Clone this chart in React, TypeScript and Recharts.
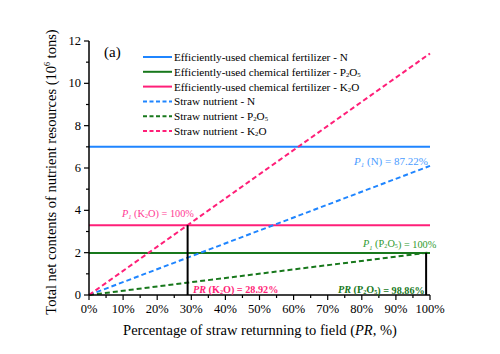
import React from 'react'
import { LineChart, Line, XAxis, YAxis, ReferenceLine } from 'recharts'

// straw returning percentage (x) at the two ends of every line
const PR = [0, 100]

// 10^6 tons
const fertN = [7.0, 7.0]
const fertP = [1.99, 1.99]
const fertK = [3.3, 3.3]
const strawN = [0, 6.1]
const strawP = [0, 2.013]
const strawK = [0, 11.41]

const X_TICKS = [0, 5, 10, 15, 20, 25, 30, 35, 40, 45, 50, 55, 60, 65, 70, 75, 80, 85, 90, 95, 100]
const Y_TICKS = [0, 1, 2, 3, 4, 5, 6, 7, 8, 9, 10, 11, 12]

// thresholds where straw nutrient equals fertilizer
const PR_K = 28.92
const PR_P = 98.86

const BLUE = '#1f85ff'
const GREEN = '#18781c'
const PINK = '#ff1f78'
const FONT = 'Liberation Serif, DejaVu Serif, serif'

const SERIES = [
  { key: 'fertN', label: 'Efficiently-used chemical fertilizer - ', chem: 'N', color: BLUE, dash: undefined },
  { key: 'fertP', label: 'Efficiently-used chemical fertilizer - ', chem: 'P2O5', color: GREEN, dash: undefined },
  { key: 'fertK', label: 'Efficiently-used chemical fertilizer - ', chem: 'K2O', color: PINK, dash: undefined },
  { key: 'strawN', label: 'Straw nutrient - ', chem: 'N', color: BLUE, dash: '5 3' },
  { key: 'strawP', label: 'Straw nutrient - ', chem: 'P2O5', color: GREEN, dash: '5 3' },
  { key: 'strawK', label: 'Straw nutrient - ', chem: 'K2O', color: PINK, dash: '5 3' },
]

const data = PR.map((x, i) => ({
  pr: x,
  fertN: fertN[i],
  fertP: fertP[i],
  fertK: fertK[i],
  strawN: strawN[i],
  strawP: strawP[i],
  strawK: strawK[i],
}))

// digits in a formula become small subscripts
function Chem({ f, size }: { f: string; size: number }) {
  const parts = f.split(/(\d)/).filter(Boolean)
  return (
    <>
      {parts.map((p, i) =>
        /\d/.test(p) ? (
          <tspan key={i} fontSize={size * 0.6} dy={size * 0.1}>{p}</tspan>
        ) : (
          <tspan key={i} dy={i > 0 && /\d/.test(parts[i - 1]) ? -size * 0.1 : 0}>{p}</tspan>
        ),
      )}
    </>
  )
}

const XTick = (props: any) => {
  const { x, y, payload } = props
  const major = payload.value % 10 === 0
  return (
    <g>
      <line x1={x} x2={x} y1={y} y2={y + (major ? 5 : 3)} stroke="#000" strokeWidth={1.2} />
      {major && (
        <text x={x} y={y + 18} textAnchor="middle" fontSize={12.5} style={{ fontFamily: FONT }} fill="#000">
          {payload.value}%
        </text>
      )}
    </g>
  )
}

const YTick = (props: any) => {
  const { x, y, payload } = props
  const major = payload.value % 2 === 0
  return (
    <g>
      <line x1={x} x2={x - (major ? 5 : 3)} y1={y} y2={y} stroke="#000" strokeWidth={1.2} />
      {major && (
        <text x={x - 8} y={y + 4} textAnchor="end" fontSize={12.5} style={{ fontFamily: FONT }} fill="#000">
          {payload.value}
        </text>
      )}
    </g>
  )
}

function Overlay() {
  const lx = 143
  const ly = 57
  const step = 14.8
  return (
    <svg width={500} height={354} style={{ position: 'absolute', left: 0, top: 0, pointerEvents: 'none', fontFamily: FONT }}>
      <text x={104} y={57} fontSize={15} fill="#000">(a)</text>

      {/* legend */}
      {SERIES.map((s, i) => (
        <g key={s.key}>
          <line x1={lx} x2={lx + 29} y1={ly + i * step} y2={ly + i * step} stroke={s.color} strokeWidth={2} strokeDasharray={s.dash ? '4 2.5' : undefined} />
          <text x={lx + 31} y={ly + i * step + 4} fontSize={11.2} fill="#000">
            {s.label}<Chem f={s.chem} size={11.2} />
          </text>
        </g>
      ))}

      {/* annotations */}
      <text x={354} y={165} fontSize={11} fill="#4a9cff">
        <tspan fontStyle="italic">P</tspan><tspan fontSize={7} fontStyle="italic" dy={1.5}>1</tspan>
        <tspan dy={-1.5}> (N) = 87.22%</tspan>
      </text>
      <text x={122} y={217} fontSize={10.3} fill="#ff3a94">
        <tspan fontStyle="italic">P</tspan><tspan fontSize={6.5} fontStyle="italic" dy={1.5}>1</tspan>
        <tspan dy={-1.5}> (</tspan><Chem f="K2O" size={10.3} /><tspan>) = 100%</tspan>
      </text>
      <text x={363} y={247} fontSize={10.3} fill="#2f9a2f">
        <tspan fontStyle="italic">P</tspan><tspan fontSize={6.5} fontStyle="italic" dy={3}>1</tspan>
        <tspan dy={-3}> (</tspan><Chem f="P2O5" size={10.3} /><tspan>) = 100%</tspan>
      </text>
      <text x={193} y={292.5} fontSize={10.2} fontWeight="bold" fill={PINK}>
        <tspan fontStyle="italic">PR</tspan><tspan> (</tspan><Chem f="K2O" size={10.2} /><tspan>) = 28.92%</tspan>
      </text>
      <text x={338} y={292.5} fontSize={10.2} fontWeight="bold" fill={GREEN}>
        <tspan fontStyle="italic">PR</tspan><tspan> (</tspan><Chem f="P2O5" size={10.2} /><tspan>) = 98.86%</tspan>
      </text>

      {/* axis titles */}
      <text x={260} y={335} fontSize={14.5} textAnchor="middle" fill="#000">
        Percentage of straw returnning to field (<tspan fontStyle="italic">PR</tspan>, %)
      </text>
      <text transform="translate(56,172) rotate(-90)" fontSize={14.5} textAnchor="middle" fill="#000">
        Total net contents of nutrient resources (10<tspan fontSize={8} dy={-6}>6</tspan><tspan dy={6}> tons)</tspan>
      </text>
    </svg>
  )
}

export default function App() {
  return (
    <div style={{ position: 'absolute', left: 0, top: 0, width: 500, height: 354, background: '#fff', fontFamily: FONT }}>
      <LineChart width={500} height={354} data={data} margin={{ top: 41, right: 70, bottom: 0, left: 0 }}>
        <XAxis
          dataKey="pr"
          type="number"
          domain={[0, 100]}
          ticks={X_TICKS}
          interval={0}
          height={59}
          tickSize={0}
          tickMargin={0}
          tickLine={false}
          tick={<XTick />}
          axisLine={{ stroke: '#000', strokeWidth: 1.5 }}
        />
        <YAxis
          type="number"
          domain={[0, 12]}
          ticks={Y_TICKS}
          interval={0}
          width={89}
          tickSize={0}
          tickMargin={0}
          tickLine={false}
          tick={<YTick />}
          axisLine={{ stroke: '#000', strokeWidth: 1.5 }}
        />
        {SERIES.map((s) => (
          <Line
            key={s.key}
            dataKey={s.key}
            type="linear"
            stroke={s.color}
            strokeWidth={2}
            strokeDasharray={s.dash}
            dot={false}
            isAnimationActive={false}
          />
        ))}
        <ReferenceLine
          segment={[{ x: PR_K, y: 0 }, { x: PR_K, y: fertK[0] }]}
          stroke="#000"
          strokeWidth={2}
        />
        <ReferenceLine
          segment={[{ x: PR_P, y: 0 }, { x: PR_P, y: fertP[0] }]}
          stroke="#000"
          strokeWidth={2}
        />
      </LineChart>
      <Overlay />
    </div>
  )
}
